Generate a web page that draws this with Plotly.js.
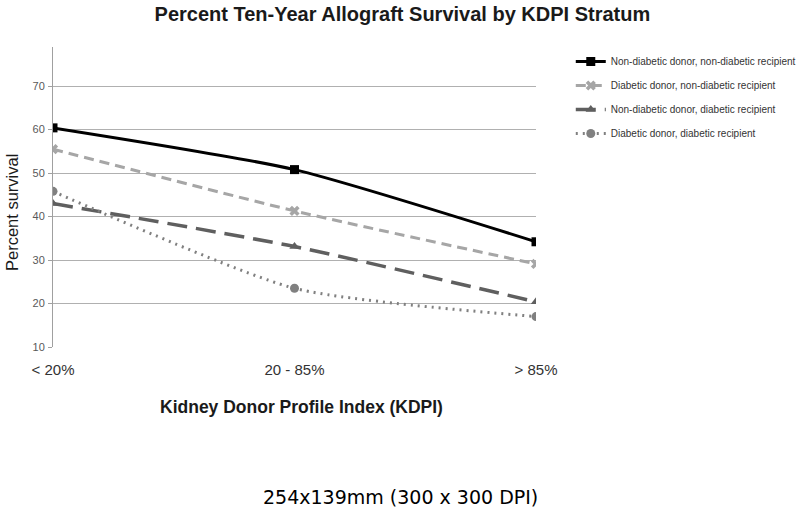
<!DOCTYPE html>
<html>
<head>
<meta charset="utf-8">
<script src="https://cdn.plot.ly/plotly-3.0.1.min.js"></script>
<style>html,body{margin:0;padding:0;background:#fff;}#chart{width:800px;height:519px;}</style>
</head>
<body>
<div id="chart"></div>
<script>
const categories = ["< 20%", "20 - 85%", "> 85%"];
const seriesNames = [
  "Non-diabetic donor, non-diabetic recipient",
  "Diabetic donor, non-diabetic recipient",
  "Non-diabetic donor, diabetic recipient",
  "Diabetic donor, diabetic recipient"
];
const ndDonorNdRecipient = [60.4, 50.8, 34.2];
const dDonorNdRecipient = [55.5, 41.3, 29.1];
const ndDonorDRecipient = [43.0, 33.1, 20.4];
const dDonorDRecipient = [45.8, 23.5, 17.0];
const yTicks = [10, 20, 30, 40, 50, 60, 70];

const styles = [
  {color: "#000000", width: 3, dash: "solid", symbol: "square", msize: 9},
  {color: "#a6a6a6", width: 3, dash: "10px,6px", symbol: "x", msize: 9},
  {color: "#5f5f5f", width: 3.5, dash: "20px,9px", symbol: "triangle-up", msize: 9},
  {color: "#808080", width: 3, dash: "2px,5px", symbol: "circle", msize: 9}
];
const values = [ndDonorNdRecipient, dDonorNdRecipient, ndDonorDRecipient, dDonorDRecipient];

const traces = values.map((v, i) => ({
  type: "scatter",
  mode: "lines+markers",
  x: [0, 1, 2],
  y: v,
  name: seriesNames[i],
  legendgroup: "g" + i,
  line: {color: styles[i].color, width: styles[i].width, dash: styles[i].dash, shape: "spline", smoothing: 0.6},
  marker: {color: styles[i].color, symbol: styles[i].symbol, size: styles[i].msize}
}));

const L = 53, R = 264, T = 47, B = 172;
const pw = 800 - L - R, ph = 519 - T - B;
const px = x => (x - L) / pw;
const py = y => (519 - B - y) / ph;

const layout = {
  width: 800, height: 519,
  margin: {l: L, r: R, t: T, b: B, autoexpand: false},
  paper_bgcolor: "#fff", plot_bgcolor: "#fff",
  font: {family: "Liberation Sans, Arial, sans-serif", color: "#404040"},
  title: {text: "<b>Percent Ten-Year Allograft Survival by KDPI Stratum</b>", x: 0.503, xanchor: "center", y: 0.973, yanchor: "middle", font: {size: 20, color: "#1a1a1a"}},
  xaxis: {
    range: [0, 2], tickvals: [0, 1, 2], ticktext: categories,
    showgrid: false, zeroline: false, showline: false, ticks: "",
    tickfont: {size: 15, color: "#333"},
    ticklabelstandoff: 12
  },
  yaxis: {
    range: [10, 79], tickvals: yTicks, showgrid: true, gridcolor: "#b0b0b0", gridwidth: 1,
    zeroline: false, showline: true, linecolor: "#a0a0a0", linewidth: 1,
    ticks: "outside", ticklen: 4, tickcolor: "#a0a0a0",
    tickfont: {size: 11, color: "#595959"}, ticklabelstandoff: 1
  },
  showlegend: true,
  legend: {x: 1.072, xanchor: "left", y: 1.0, yanchor: "top", font: {size: 10, color: "#333"}, tracegroupgap: 5, bgcolor: "rgba(0,0,0,0)"},
  annotations: [
    {text: "254x139mm (300 x 300 DPI)", xref: "paper", yref: "paper", x: px(400), xanchor: "center",
     y: py(497), yanchor: "middle", showarrow: false,
     font: {family: "DejaVu Sans, sans-serif", size: 19, color: "#000"}},
    {text: "<b>Kidney Donor Profile Index (KDPI)</b>", xref: "paper", yref: "paper", x: px(301), xanchor: "center",
     y: py(407), yanchor: "middle", showarrow: false,
     font: {size: 17.5, color: "#1a1a1a"}},
    {text: "Percent survival", xref: "paper", yref: "paper", x: px(12), xanchor: "center",
     y: py(213), yanchor: "middle", textangle: -90, showarrow: false,
     font: {size: 16.5, color: "#1a1a1a"}}
  ]
};

Plotly.newPlot("chart", traces, layout, {displayModeBar: false, staticPlot: true});
</script>
</body>
</html>
